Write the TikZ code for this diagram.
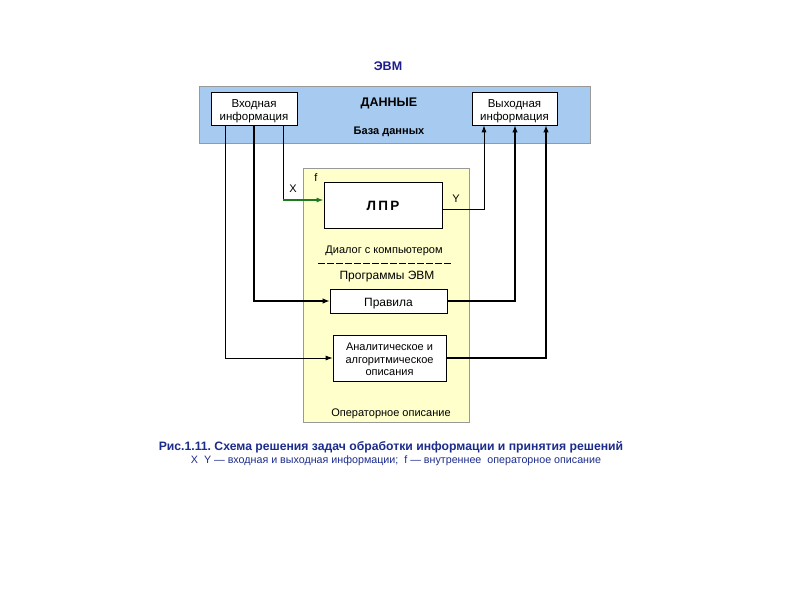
\documentclass[tikz,border=0pt]{standalone}
\usepackage{fontspec}
\setmainfont{Liberation Sans}
\usetikzlibrary{arrows.meta}
\definecolor{evmblue}{HTML}{A6CAF0}
\definecolor{opyellow}{HTML}{FFFFCC}
\definecolor{titleblue}{HTML}{1C1C8C}
\definecolor{capblue}{HTML}{1C2C8C}
\definecolor{xgreen}{HTML}{1E7A1E}
\newcommand{\lowtext}[2][3pt]{\raisebox{-#1}[\height][\depth]{\begin{tabular}{@{}c@{}}#2\end{tabular}}}
\tikzset{
  box/.style={draw=black, line width=0.7pt, fill=white, inner sep=0pt, align=center, font=\fontsize{11.5}{13}\selectfont},
  panel/.style={draw=gray!80, line width=0.6pt, inner sep=0pt},
  lbl/.style={inner sep=0pt, anchor=base, font=\fontsize{11}{12}\selectfont},
  link/.style={line width=0.8pt, -{Latex[length=7pt,width=5pt]}},
  boldlink/.style={line width=1.6pt, -{Latex[length=7pt,width=5.5pt]}},
  plain/.style={line width=0.8pt}
}
\begin{document}
\frenchspacing
\begin{tikzpicture}[x=1pt,y=-1pt]
\useasboundingbox (0,0) rectangle (794,595);
\fill[white] (0,0) rectangle (794,595);

% panels
\node[panel, fill=evmblue, minimum width=391pt, minimum height=57pt] (evm) at (394.5,114.5) {};
\node[panel, fill=opyellow, minimum width=166pt, minimum height=254pt] (op) at (386,295) {};

\node[lbl, font=\fontsize{12.5}{13}\selectfont\bfseries, text=titleblue] (evmt) at (388,70.5) {ЭВМ};
\node[lbl, font=\fontsize{12.5}{13}\selectfont\bfseries] (dan) at (389,106.5) {ДАННЫЕ};
\node[lbl, font=\fontsize{11}{12}\selectfont\bfseries] (bd) at (389,134) {База данных};

% boxes
\node[box, minimum width=86pt, minimum height=33pt] (in) at (254,108.5) {\lowtext{Входная\\информация}};
\node[box, minimum width=85pt, minimum height=33pt] (out) at (514.5,108.5) {\lowtext{Выходная\\информация}};
\node[box, minimum width=118pt, minimum height=46pt, font=\fontsize{13.5}{14}\selectfont\bfseries] (lpr) at (383,205) {\lowtext[2.5pt]{Л\,П\,Р}};
\node[box, minimum width=117pt, minimum height=24pt, font=\fontsize{12}{13}\selectfont] (prav) at (388.5,301) {\lowtext[3pt]{Правила}};
\node[box, minimum width=113pt, minimum height=46pt, font=\fontsize{11}{12.5}\selectfont] (ana) at (389.5,358) {\lowtext[2.5pt]{Аналитическое и\\алгоритмическое\\описания}};

% labels
\node[lbl] (f) at (316,181) {f};
\node[lbl] (xl) at (293,192.5) {X};
\node[lbl] (yl) at (456,202) {Y};
\node[lbl] (dial) at (384,253) {Диалог с компьютером};
\draw[line width=0.8pt, dash pattern=on 7pt off 2pt] (318,263) -- (452,263);
\node[lbl, font=\fontsize{12}{13}\selectfont] (prog) at (387,279) {Программы ЭВМ};
\node[lbl] (opd) at (391,416) {Операторное описание};

% connector coordinates
\coordinate (xa) at (283,200);
\coordinate (pa) at (254,0);
\coordinate (aa) at (225,0);
\coordinate (ya) at (484,0);
\coordinate (pb) at (515,0);
\coordinate (ab) at (546,0);

% inputs
\draw[plain] (in.south -| xa) -- (xa);
\draw[link, draw=xgreen, fill=xgreen, line width=1.4pt] (xa) -- (lpr.west |- xa);
\draw[boldlink, line width=1.3pt] (in.south -| pa) |- (prav.west);
\draw[link] (in.south -| aa) |- (ana.west);

% outputs
\draw[link] ([yshift=-4pt]lpr.east) -| (out.south -| ya);
\draw[boldlink] (prav.east) -| (out.south -| pb);
\draw[boldlink, line width=1.3pt] (ana.east) -| (out.south -| ab);

% caption
\node[lbl, font=\fontsize{12.2}{13}\selectfont\bfseries, text=capblue] (cap1) at (391,450.5) {Рис.1.11. Схема решения задач обработки информации и принятия решений};
\node[lbl, font=\fontsize{10.7}{12}\selectfont, text=capblue] (cap2) at (396,463) {X\ \ Y — входная и выходная информации;\ \ f — внутреннее\ \ операторное описание};
\end{tikzpicture}
\end{document}
